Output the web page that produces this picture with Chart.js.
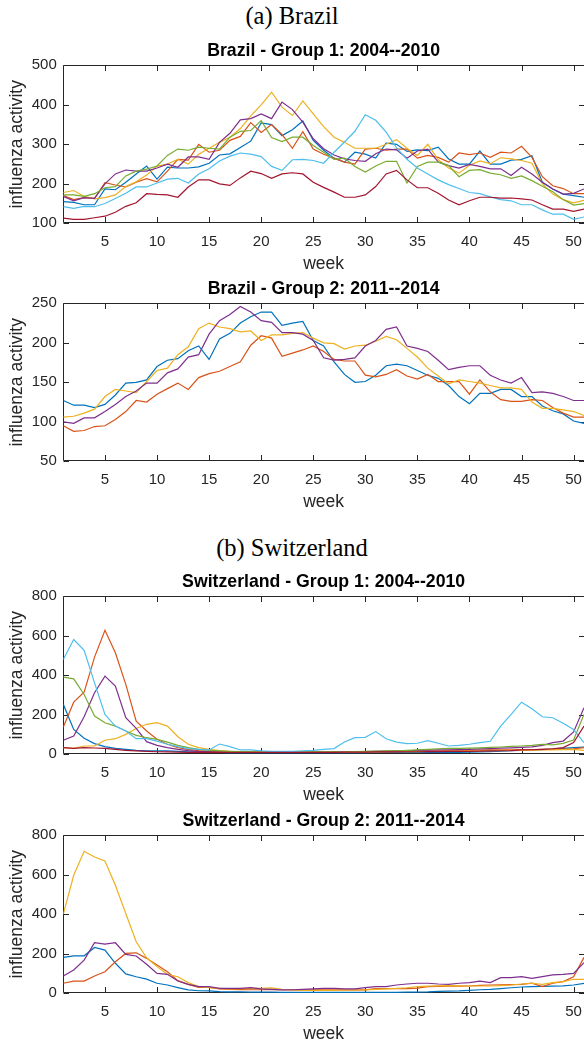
<!DOCTYPE html>
<html>
<head>
<meta charset="utf-8">
<script src="https://cdn.jsdelivr.net/npm/chart.js@4.4.1/dist/chart.umd.min.js"></script>
<style>
body { margin: 0; background: #fff; }
#page { position: relative; width: 584px; height: 1047px; overflow: hidden; }
.sec { position: absolute; left: 0; width: 584px; text-align: center; font-family: 'Liberation Serif', serif; font-size: 24.5px; line-height: 24px; color: #000; }
canvas { position: absolute; left: 0; }
</style>
</head>
<body>
<div id="page">
  <div class="sec" style="top:4px">(a) Brazil</div>
  <canvas id="br1" width="584" height="235" style="top:40px"></canvas>
  <canvas id="br2" width="584" height="235" style="top:278px"></canvas>
  <div class="sec" style="top:536px">(b) Switzerland</div>
  <canvas id="ch1" width="584" height="235" style="top:571px"></canvas>
  <canvas id="ch2" width="584" height="235" style="top:810px"></canvas>
</div>
<script>
var weeks = [1,2,3,4,5,6,7,8,9,10,11,12,13,14,15,16,17,18,19,20,21,22,23,24,25,26,27,28,29,30,31,32,33,34,35,36,37,38,39,40,41,42,43,44,45,46,47,48,49,50,51]
var weekTicks = [5,10,15,20,25,30,35,40,45,50]
var colors = ['#0072BD', '#D95319', '#EDB120', '#7E2F8E', '#77AC30', '#4DBEEE', '#A2142F']

// Brazil - group 1 (2004--2010)
var br1Blue = [155,153,147,147,187,185,204,225,245,212,242,240,240,243,252,273,276,292,308,354,350,322,337,359,310,285,265,255,280,275,265,303,300,282,286,284,293,263,250,250,283,250,250,260,262,271,204,187,174,170,166]
var br1Orange = [170,160,165,163,203,197,192,204,213,205,232,262,260,300,280,285,310,320,355,330,350,325,290,332,288,275,265,255,250,288,290,285,288,288,265,272,267,255,278,274,278,267,280,278,295,267,218,195,188,175,175]
var br1Yellow = [178,183,168,162,165,172,193,205,222,245,250,262,250,275,290,305,318,340,372,400,432,394,373,410,377,345,318,305,290,290,290,300,312,290,272,300,261,240,227,247,258,251,266,263,259,252,200,174,160,152,158]
var br1Purple = [168,157,165,163,200,225,235,232,232,240,250,242,268,268,262,305,328,362,365,377,365,407,388,356,314,289,273,263,259,257,276,288,286,265,283,288,255,246,240,249,244,238,238,221,242,225,204,187,174,176,187]
var br1Green = [172,172,168,175,190,193,220,232,237,245,272,288,285,293,290,288,318,333,335,360,317,307,318,318,297,280,262,265,244,230,245,257,257,202,244,255,255,246,218,234,236,227,223,214,220,208,194,180,160,146,150]
var br1Cyan = [142,138,143,142,150,163,176,192,192,202,212,214,202,225,238,258,270,278,275,269,244,234,261,262,259,252,280,306,333,375,361,331,291,262,240,225,210,198,188,178,175,167,160,157,147,147,134,123,123,110,116]
var br1Red = [113,110,110,114,118,128,143,152,175,173,172,166,192,210,210,200,196,215,232,226,214,225,228,225,204,191,179,166,166,172,193,225,234,210,190,190,176,159,147,157,166,166,164,164,162,159,147,136,136,130,136]

// Brazil - group 2 (2011--2014)
var br2Blue = [127,121,121,118,122,134,149,150,153,170,178,180,190,196,179,205,212,225,233,239,239,222,225,227,203,196,176,160,150,151,159,171,173,171,165,159,155,146,132,123,136,136,141,141,132,132,120,114,110,101,98]
var br2Orange = [95,88,89,94,95,103,113,127,125,135,142,149,141,156,161,164,170,176,197,209,206,183,187,191,196,189,179,177,177,159,157,160,166,158,154,160,151,151,151,135,153,138,128,126,126,128,127,118,111,106,106]
var br2Yellow = [106,107,111,116,132,141,139,137,151,165,168,185,195,218,225,220,218,214,215,203,210,210,212,213,206,200,199,192,196,197,202,208,204,193,182,168,158,148,153,151,149,146,143,143,141,125,117,117,115,113,108]
var br2Purple = [100,98,105,105,113,122,132,139,149,149,162,167,182,185,211,228,236,246,239,228,226,213,213,211,203,181,178,179,181,196,203,217,220,196,193,189,178,166,169,171,171,159,153,149,156,137,138,136,132,127,127]

// Switzerland - group 1 (2004--2010)
var ch1Blue = [253,126,81,54,39,30,25,20,18,17,17,15,13,12,10,9,8,8,8,8,8,8,8,8,8,8,8,8,8,8,9,9,9,10,10,10,10,10,10,11,12,14,16,18,20,22,24,26,30,34,36]
var ch1Orange = [138,264,315,492,628,514,354,168,118,76,51,34,25,19,15,13,12,11,10,10,10,10,10,10,10,10,11,11,12,12,13,14,15,16,17,18,18,19,20,20,21,22,22,23,24,24,25,25,26,28,34]
var ch1Yellow = [34,30,42,42,71,79,101,131,152,160,143,89,51,34,25,19,15,13,12,12,12,11,11,11,11,11,11,12,12,12,12,13,13,14,14,15,16,16,17,18,18,19,20,20,20,21,22,22,24,25,20]
var ch1Purple = [71,93,190,312,396,345,185,131,64,45,34,25,19,15,13,12,11,11,10,10,10,10,10,11,11,12,12,13,13,14,15,16,17,18,20,21,22,23,24,25,27,29,31,33,35,38,45,59,67,113,236]
var ch1Green = [391,382,303,194,160,143,118,96,84,76,62,45,34,25,20,17,15,14,13,13,12,12,12,12,12,12,13,13,14,15,16,17,18,20,22,25,28,30,30,31,33,35,37,40,42,45,50,48,55,72,202]
var ch1Cyan = [480,581,527,362,202,143,118,79,79,67,51,39,29,25,22,52,39,22,22,17,15,15,15,17,20,25,29,62,84,86,115,79,62,54,56,69,56,42,45,51,59,66,143,202,264,231,190,185,157,126,59]
var ch1Red = [34,30,34,32,30,25,20,17,15,13,12,11,10,10,10,10,10,10,10,10,10,10,10,10,10,10,10,11,11,11,12,12,12,13,13,14,14,15,15,15,16,17,18,19,22,23,25,28,34,59,143]

// Switzerland - group 2 (2011--2014)
var ch2Blue = [182,190,190,232,219,152,98,84,72,51,42,29,17,13,12,8,7,7,6,6,6,5,5,5,5,5,5,5,5,5,5,5,5,6,6,7,10,11,12,15,18,20,24,28,32,34,35,36,38,42,50]
var ch2Orange = [51,62,62,88,109,160,202,205,177,143,109,64,45,30,30,22,20,19,18,18,18,18,17,17,17,17,17,17,17,17,24,24,24,24,26,34,35,36,36,37,40,42,43,44,45,51,34,51,59,84,182]
var ch2Yellow = [401,598,719,690,670,547,404,261,180,135,96,84,54,34,29,25,22,24,25,25,27,20,17,15,15,15,15,16,16,17,20,22,25,28,34,36,38,39,38,37,37,37,39,42,47,51,45,54,59,71,71]
var ch2Purple = [88,118,168,256,249,256,197,189,147,101,96,62,45,34,34,25,25,25,29,22,20,17,18,20,22,25,25,22,22,29,34,34,42,47,51,51,47,45,51,54,62,54,79,79,84,76,84,93,96,101,155]

var br1Ticks = [100, 500, 100]
var br2Ticks = [50, 250, 50]
var chTicks = [0, 800, 200]

var axisColor = '#262626'
var sans = "'Liberation Sans', Arial, sans-serif"

// matlab style box with ticks pointing inside
var boxPlugin = {
  id: 'box',
  beforeDatasetsDraw: function(chart) {
    var a = chart.chartArea
    var c = chart.ctx
    var xs = chart.scales.x
    var ys = chart.scales.y
    var l = Math.round(a.left) + 0.5
    var r = Math.round(a.right) + 0.5
    var t = Math.round(a.top) + 0.5
    var b = Math.round(a.bottom) - 0.5
    var len = 5.5
    c.save()
    c.strokeStyle = axisColor
    c.lineWidth = 1
    c.beginPath()
    c.moveTo(r, t); c.lineTo(l, t); c.lineTo(l, b); c.lineTo(r, b); c.lineTo(r, t)
    xs.ticks.forEach(function(tk) {
      var px = Math.round(xs.getPixelForValue(tk.value)) + 0.5
      c.moveTo(px, b); c.lineTo(px, b - len)
      c.moveTo(px, t); c.lineTo(px, t + len)
    })
    ys.ticks.forEach(function(tk) {
      var py = Math.round(ys.getPixelForValue(tk.value)) + 0.5
      c.moveTo(l, py); c.lineTo(l + len, py)
      c.moveTo(r, py); c.lineTo(r - len, py)
    })
    c.stroke()
    c.restore()
  }
}

function makeChart(id, title, series, yTicks) {
  var ctx = document.getElementById(id).getContext('2d')
  return new Chart(ctx, {
    type: 'line',
    data: {
      labels: weeks,
      datasets: series.map(function(d, i) {
        return { data: d, borderColor: colors[i], borderWidth: 1.2, pointRadius: 0, fill: false, tension: 0, order: series.length - i }
      })
    },
    options: {
      responsive: false,
      animation: false,
      devicePixelRatio: 1,
      layout: { padding: 0 },
      plugins: {
        legend: { display: false },
        tooltip: { enabled: false },
        title: {
          display: true,
          text: title,
          fullSize: false,
          color: '#000',
          font: { family: sans, size: 17.7, weight: 'bold' },
          padding: { top: 0, bottom: 4.1 }
        }
      },
      scales: {
        x: {
          type: 'linear',
          min: 1,
          max: 51,
          grid: { display: false, drawTicks: false },
          border: { display: false },
          afterBuildTicks: function(s) {
            s.ticks = weekTicks.map(function(v) { return { value: v } })
          },
          afterFit: function(s) {
            s.height = 51.7
            s.paddingLeft = 0
            s.paddingRight = 0
          },
          ticks: { color: axisColor, font: { family: sans, size: 15 }, padding: 9.3, maxRotation: 0 },
          title: { display: true, text: 'week', color: axisColor, font: { family: sans, size: 17.5 }, padding: { top: 0, bottom: 0 } }
        },
        y: {
          min: yTicks[0],
          max: yTicks[1],
          grid: { display: false, drawTicks: false },
          border: { display: false },
          afterFit: function(s) {
            s.width = 63.3
            s.paddingTop = 0
            s.paddingBottom = 0
          },
          ticks: { stepSize: yTicks[2], color: axisColor, font: { family: sans, size: 15 }, padding: 6.5 },
          title: { display: true, text: 'influenza activity', color: axisColor, font: { family: sans, size: 17.5 }, padding: { top: 6.5, bottom: 0 } }
        }
      }
    },
    plugins: [boxPlugin]
  })
}

makeChart('br1', 'Brazil - Group 1: 2004--2010', [br1Blue, br1Orange, br1Yellow, br1Purple, br1Green, br1Cyan, br1Red], br1Ticks)
makeChart('br2', 'Brazil - Group 2: 2011--2014', [br2Blue, br2Orange, br2Yellow, br2Purple], br2Ticks)
makeChart('ch1', 'Switzerland - Group 1: 2004--2010', [ch1Blue, ch1Orange, ch1Yellow, ch1Purple, ch1Green, ch1Cyan, ch1Red], chTicks)
makeChart('ch2', 'Switzerland - Group 2: 2011--2014', [ch2Blue, ch2Orange, ch2Yellow, ch2Purple], chTicks)
</script>
</body>
</html>
